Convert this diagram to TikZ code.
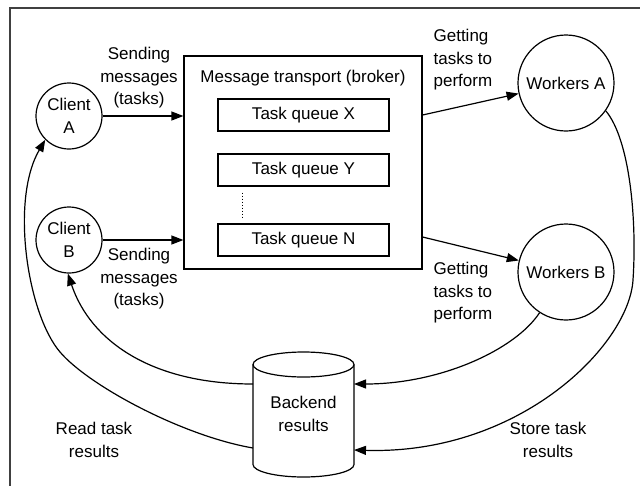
\documentclass[tikz,border=0pt]{standalone}
\usepackage{fontspec}
\setmainfont{Liberation Sans}
\usetikzlibrary{arrows.meta}
\begin{document}
\begin{tikzpicture}[x=1pt,y=-1pt,
  font=\fontsize{17}{22.5}\selectfont,
  line width=1.2pt,
  arr/.style={-{Triangle[length=12pt,width=9pt]}},
  lbl/.style={align=center,inner sep=0pt},
  lbll/.style={align=left,inner sep=0pt},
  client/.style={draw,circle,minimum size=66pt,inner sep=0pt,align=center},
  worker/.style={draw,circle,minimum size=96pt,inner sep=0pt,align=center},
  queue/.style={draw,rectangle,minimum width=171pt,minimum height=32pt,inner sep=0pt}]
\useasboundingbox (0,0) rectangle (640,485);
\begin{scope}
\clip (0,0) rectangle (640,485);
\draw[black!75] (10,8) rectangle (700,520);
\end{scope}
% broker
\node[draw,rectangle,minimum width=238pt,minimum height=213pt,inner sep=0pt] (broker) at (303,162.5) {};
\node[lbl] (btitle) at (303,78) {Message transport (broker)};
\node[queue] (qx) at (303.5,115) {Task queue X};
\node[queue] (qy) at (303.5,170) {Task queue Y};
\node[queue] (qn) at (303.5,240) {Task queue N};
\draw[dotted,line width=1pt] ([xshift=25pt,yshift=-6pt]qy.south west) -- ([xshift=25pt,yshift=4pt]qn.north west);
% clients
\node[client] (ca) at (69,116) {Client\\A};
\node[client] (cb) at (69,240) {Client\\B};
% workers
\node[worker] (wa) at (566,83) {Workers A};
\node[worker] (wb) at (566,272) {Workers B};
% backend cylinder
\coordinate (cyltl) at (253,364.5);
\coordinate (cyltr) at (354,364.5);
\draw (303.5,364.5) ellipse [x radius=50.5pt, y radius=12.5pt];
\draw (cyltl) -- (253,464.5) arc [start angle=180,end angle=360,x radius=50.5pt,y radius=12.5pt] -- (cyltr);
\node[lbl] (be) at (303.5,414) {Backend\\results};
\coordinate (cylr1) at (354,384);
\coordinate (cylr2) at (354,450);
\coordinate (cyll1) at (253,384);
\coordinate (cyll2) at (253,448);
% arrows to broker
\draw[arr] (ca.east) -- (ca.east -| broker.west);
\draw[arr] (cb.east) -- (cb.east -| broker.west);
% broker to workers
\coordinate (bx) at (qx.east -| broker.east);
\coordinate (bn) at ([yshift=3pt]qn.east -| broker.east);
\draw[arr] (bx) -- (wa);
\draw[arr] (bn) -- (wb);
% workers to backend
\draw[arr] (wb.-123) .. controls (515,350) and (440,384) .. (cylr1);
\draw[arr] (wa.-35) .. controls (630,140) and (637,220) .. (633,280)
  .. controls (629,345) and (520,455) .. (cylr2);
% backend to clients
\draw[arr] (cyll1) .. controls (150,384) and (90,340) .. (cb.-92);
\draw[arr] (cyll2) .. controls (183,436) and (89,386) .. (60,352)
  .. controls (27.5,314) and (10,200) .. (ca.-135);
% labels
\node[lbl] (l1) at (139,78) {Sending\\messages\\(tasks)};
\node[lbl] (l2) at (139,279) {Sending\\messages\\(tasks)};
\node[lbll,anchor=west] (l3) at (433,60) {Getting\\tasks to\\perform};
\node[lbll,anchor=west] (l4) at (433,293) {Getting\\tasks to\\perform};
\node[lbl] (l5) at (94,440) {Read task\\results};
\node[lbl] (l6) at (548,440) {Store task\\results};
\end{tikzpicture}
\end{document}
